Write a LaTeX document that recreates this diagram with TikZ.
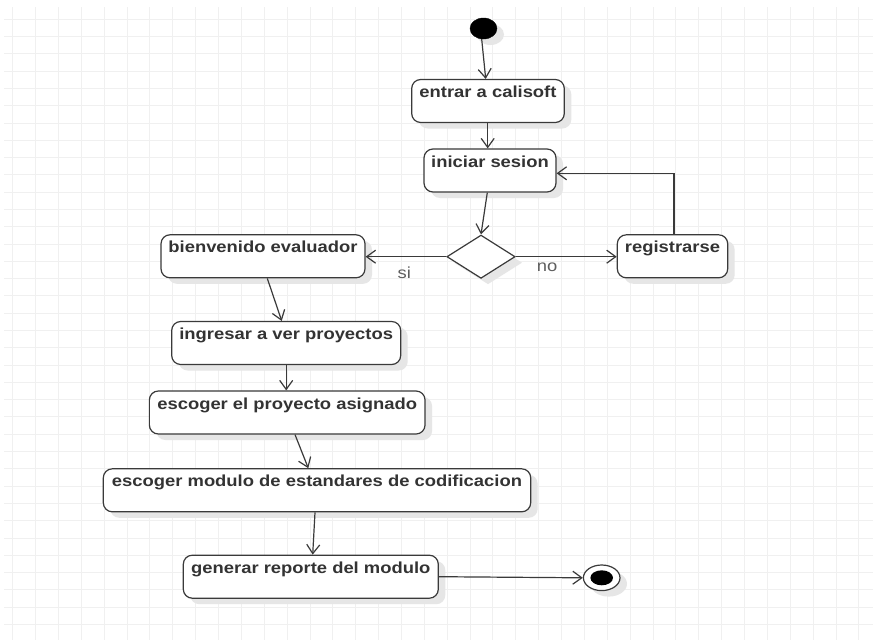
\documentclass[tikz,border=0pt]{standalone}
\usepackage{fontspec}
\setmainfont{Liberation Sans}
\newfontfamily\actfont[FakeStretch=1.15]{Liberation Sans Bold}
\newfontfamily\guardfont[FakeStretch=1.15]{Liberation Sans}
\usetikzlibrary{arrows.meta,shapes.geometric,shadows}
\definecolor{gridc}{HTML}{F0F0F0}
\definecolor{linec}{HTML}{3A3A3A}
\definecolor{textc}{HTML}{333333}
\definecolor{guardc}{HTML}{5E5E5E}
\definecolor{shadowc}{HTML}{E6E6E6}
\tikzset{
  shade/.style={drop shadow={shadow xshift=7pt,shadow yshift=-6pt,fill=shadowc,opacity=1}},
  activity/.style={shade,draw=linec,fill=white,line width=1.2pt,rectangle,rounded corners=9pt,
    inner sep=0pt,minimum height=43pt,text height=18pt,text depth=25pt,
    font=\actfont\fontsize{16}{19}\selectfont,text=textc},
  decisionbox/.style={shade,draw=linec,fill=white,line width=1.2pt,diamond,inner sep=0pt,
    minimum width=68.3pt,minimum height=43.3pt},
  startdot/.style={shade,ellipse,fill=black,draw=black,inner sep=0pt,minimum width=27pt,minimum height=21pt},
  enddot/.style={shade,ellipse,fill=white,draw=linec,line width=1.2pt,inner sep=0pt,minimum width=36.6pt,minimum height=25.6pt},
  flow/.style={draw=linec,line width=1.2pt,-{Straight Barb[length=9pt,width=13pt,line width=1.2pt]}},
  guard/.style={font=\guardfont\fontsize{16}{19}\selectfont,text=guardc,inner sep=0pt},
  gridline/.style={draw=gridc,line width=1pt}
}
\begin{document}
\begin{tikzpicture}[x=1pt,y=-1pt]
\useasboundingbox (0,0) rectangle (873,640);
\fill[white] (0,0) rectangle (873,640);
% background grid
\foreach \i in {0,...,37} \draw[gridline] (12.7+22.87*\i,7) -- (12.7+22.87*\i,640);
\foreach \j in {0,...,35} \draw[gridline] (4,19.3+17.29*\j) -- (873,19.3+17.29*\j);

% nodes
\node[startdot] (init) at (483.5,28.5) {};
\node[activity,minimum width=152.6pt] (entrar) at (488,101) {entrar a calisoft};
\node[activity,minimum width=132pt] (iniciar) at (490,170.5) {iniciar sesion};
\node[decisionbox] (dec) at (481,256.7) {};
\node[activity,minimum width=204pt] (bienv) at (263,256.3) {bienvenido evaluador};
\node[activity,minimum width=110.4pt] (regis) at (672.5,256.3) {registrarse};
\node[activity,minimum width=229pt] (ingresar) at (286.2,343) {ingresar a ver proyectos};
\node[activity,minimum width=275.7pt] (proyecto) at (287.2,412.5) {escoger el proyecto asignado};
\node[activity,minimum width=427.4pt] (modulo) at (317,490.3) {escoger modulo de estandares de codificacion};
\node[activity,minimum width=255pt] (generar) at (310.8,576.7) {generar reporte del modulo};
\node[enddot] (final) at (601.7,577.8) {};
\fill[black] (final.center) ellipse [x radius=11.3, y radius=7.5];

% connectors
\draw[flow] ([xshift=-1.8pt]init.south) -- ([xshift=-2.3pt]entrar.north);
\draw[flow] ([xshift=-0.3pt]entrar.south) -- ([xshift=-2.3pt]iniciar.north);
\draw[flow] ([xshift=-2.7pt]iniciar.south) -- (dec.north);
\draw[flow] (dec.west) -- node[guard,pos=0.52,yshift=-16pt] {si} (dec.west -| bienv.east);
\draw[flow] (dec.east) -- node[guard,pos=0.31,yshift=-10.6pt] {no} (dec.east -| regis.west);
\draw[flow] ([xshift=1.5pt]regis.north) |- ([yshift=-2.8pt]iniciar.east);
\draw[flow] ([xshift=4.3pt]bienv.south) -- ([xshift=-4.5pt]ingresar.north);
\draw[flow] (ingresar.south) -- (ingresar.south |- proyecto.north);
\draw[flow] ([xshift=7.8pt]proyecto.south) -- ([xshift=-8.7pt]modulo.north);
\draw[flow] ([xshift=-2pt]modulo.south) -- ([xshift=1.9pt]generar.north);
\draw[flow] (generar.east) -- (final.west);
\end{tikzpicture}
\end{document}
